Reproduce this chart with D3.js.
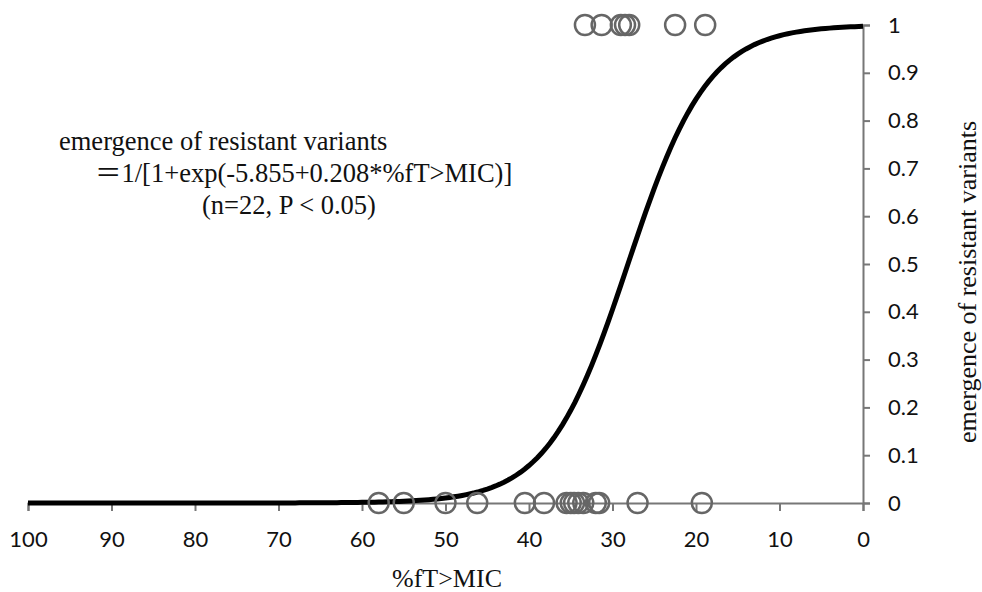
<!DOCTYPE html>
<html><head><meta charset="utf-8">
<script src="https://cdn.jsdelivr.net/npm/d3@7"></script>
<style>body{margin:0;background:#fff}</style>
</head><body>
<svg id="c" width="982" height="592"></svg>
<script>
const xTicks = [100,90,80,70,60,50,40,30,20,10,0];
const yTicks = [0,0.1,0.2,0.3,0.4,0.5,0.6,0.7,0.8,0.9,1];
const resistantX = [33.3, 31.3, 29.0, 28.5, 28.0, 22.5, 18.9];
const resistantY = [1,1,1,1,1,1,1];
const nonResistantX = [58.0, 55.0, 50.0, 46.2, 40.5, 38.2, 35.5, 35.0, 34.6, 34.1, 33.5, 32.0, 31.6, 27.0, 19.3];
const nonResistantY = nonResistantX.map(()=>0);
const b0 = -5.855, b1 = 0.208;
const curveX = d3.range(0, 100.01, 0.5);

const svg = d3.select("#c");
const x = d3.scaleLinear().domain([100,0]).range([28,863]);
const y = d3.scaleLinear().domain([0,1]).range([503,25]);
const axisColor = "#777";
const sans = "Lato, 'Open Sans', 'Liberation Sans', sans-serif";

// x axis
const gx = svg.append("g").attr("transform","translate(0,503)")
  .call(d3.axisBottom(x).tickValues(xTicks).tickSize(8).tickPadding(20).tickFormat(d3.format("d")));
gx.select(".domain").attr("stroke",axisColor).attr("stroke-width",2);
gx.selectAll(".tick line").attr("stroke",axisColor).attr("stroke-width",2);
gx.selectAll(".tick text").attr("fill","#111").style("font-family",sans).style("font-size","22px");

// y axis (right)
const gy = svg.append("g").attr("transform","translate(863,0)")
  .call(d3.axisRight(y).tickValues(yTicks).tickSize(7).tickPadding(18).tickFormat(d=>d===0||d===1?String(d):d3.format(".1f")(d)));
gy.select(".domain").attr("stroke",axisColor).attr("stroke-width",2);
gy.selectAll(".tick line").attr("stroke",axisColor).attr("stroke-width",2);
gy.selectAll(".tick text").attr("fill","#111").style("font-family",sans).style("font-size","22px");

// curve
const line = d3.line().x(d=>x(d)).y(d=>y(1/(1+Math.exp(b0+b1*d))));
svg.append("path").datum(curveX).attr("d",line).attr("fill","none").attr("stroke","#000").attr("stroke-width",5);

// points
const pts = resistantX.map((v,i)=>[v,resistantY[i]]).concat(nonResistantX.map((v,i)=>[v,nonResistantY[i]]));
svg.selectAll("circle.p").data(pts).enter().append("circle").attr("class","p")
  .attr("cx",d=>x(d[0])).attr("cy",d=>y(d[1])).attr("r",10)
  .attr("fill","none").attr("stroke","#666").attr("stroke-width",2.5);

const serif = "'Liberation Serif', 'DejaVu Serif', 'Noto Sans CJK JP', serif";
svg.append("text").attr("x",447).attr("y",587).attr("text-anchor","middle")
  .style("font-family",serif).style("font-size","26px").attr("fill","#111").text("%fT>MIC");
svg.append("text").attr("transform","translate(976,282) rotate(-90)").attr("text-anchor","middle")
  .style("font-family",serif).style("font-size","26px").attr("fill","#111").text("emergence of resistant variants");

const ann = [["emergence of resistant variants",59,150],["＝1/[1+exp(-5.855+0.208*%fT>MIC)]",95,182],["(n=22, P < 0.05)",202,214]];
svg.selectAll("text.ann").data(ann).enter().append("text").attr("class","ann")
  .attr("x",d=>d[1]).attr("y",d=>d[2]).style("font-family",serif).style("font-size","26.5px").attr("fill","#111").text(d=>d[0]);
</script>
</body></html>
